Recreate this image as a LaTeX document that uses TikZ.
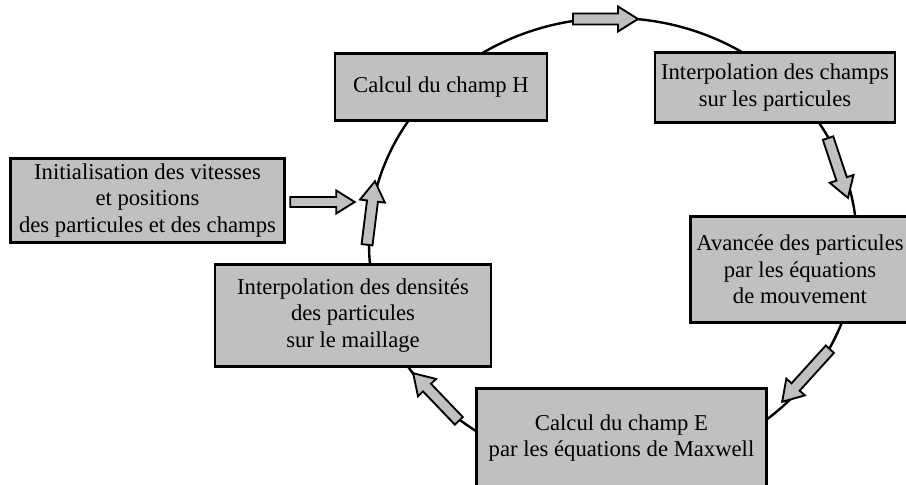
\documentclass[tikz,border=0pt]{standalone}
\usepackage{fontspec}
\setmainfont{Liberation Serif}
\usepackage{xcolor}
\usepackage{tikz}
\definecolor{boxgray}{RGB}{192,192,192}
\tikzset{
  stepbox/.style={draw, line width=2.2pt, fill=boxgray, align=center, inner sep=0pt,
    font=\fontsize{17}{20}\selectfont},
  % block arrow, #1 = length (tail to tip), drawn along local x
  pics/blockarr/.style={code={
    \draw [line width=1.4pt, fill=boxgray, line join=miter]
      ({-#1/2},-5.5) -- ({#1/2-20},-5.5) -- ({#1/2-20},-12.5) -- ({#1/2},0)
      -- ({#1/2-20},12.5) -- ({#1/2-20},5.5) -- ({-#1/2},5.5) -- cycle;
  }}
}
\begin{document}
\begin{tikzpicture}[x=0.75pt,y=0.75pt,yscale=-1,xscale=1]
\useasboundingbox (0,0) rectangle (906,485);

%Shape: Ellipse [cycle]
\draw [line width=1.8pt] (613,244) ellipse [x radius=244, y radius=226];

% Text Node
\node (hfield) at (441,87) [stepbox, minimum width=159pt, minimum height=50pt] {Calcul du champ H};
% Text Node
\node (champs) at (775,87.5) [stepbox, minimum width=180pt, minimum height=52pt] {Interpolation des champs\\sur les particules};
% Text Node
\node (avance) at (800,269.5) [stepbox, minimum width=164pt, minimum height=79pt] {Avancée des particules\\par les équations\\de mouvement};
% Text Node
\node (efield) at (621.5,438) [stepbox, minimum width=217pt, minimum height=74pt] {Calcul du champ E\\par les équations de Maxwell};
% Text Node
\node (densite) at (353,315.5) [stepbox, minimum width=207pt, minimum height=76pt] {Interpolation des densités\\des particules\\sur le maillage};
% Text Node
\node (init) at (147.5,200.5) [stepbox, minimum width=205pt, minimum height=62.5pt] {Initialisation des vitesses\\et positions\\des particules et des champs};

%Shape: Arrows on the cycle
\pic at (605.5,19) {blockarr=65};
\pic [rotate=-71.6] at (838,168) {blockarr=63};
\pic [rotate=-132.2] at (806,375.5) {blockarr=71};
\pic [rotate=133.8] at (436,397) {blockarr=66};
\pic [rotate=82.9] at (371,213) {blockarr=64};
%Shape: Arrow from init
\pic [scale=0.92] at (322.5,202) {blockarr=70};

\end{tikzpicture}
\end{document}
